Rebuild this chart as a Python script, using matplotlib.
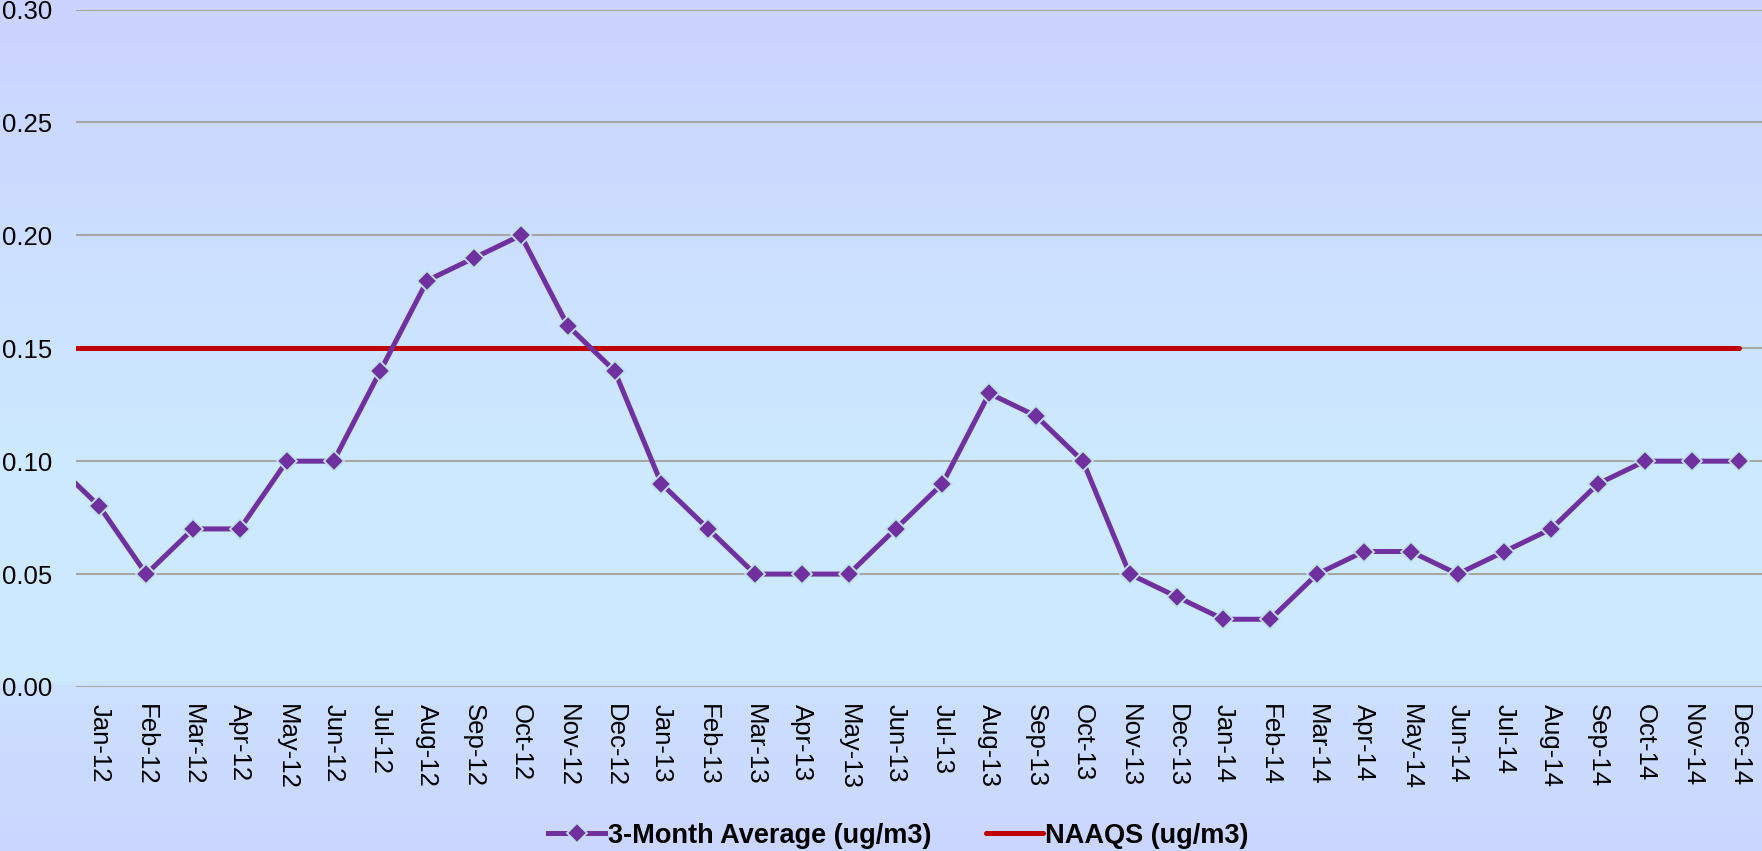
import matplotlib
matplotlib.use("Agg")
from matplotlib import pyplot as plt
from matplotlib.colors import LinearSegmentedColormap
import numpy as np

# monthly data, first month (Dec-11) sits just outside the visible range
months = ['Dec-11',
          'Jan-12', 'Feb-12', 'Mar-12', 'Apr-12', 'May-12', 'Jun-12',
          'Jul-12', 'Aug-12', 'Sep-12', 'Oct-12', 'Nov-12', 'Dec-12',
          'Jan-13', 'Feb-13', 'Mar-13', 'Apr-13', 'May-13', 'Jun-13',
          'Jul-13', 'Aug-13', 'Sep-13', 'Oct-13', 'Nov-13', 'Dec-13',
          'Jan-14', 'Feb-14', 'Mar-14', 'Apr-14', 'May-14', 'Jun-14',
          'Jul-14', 'Aug-14', 'Sep-14', 'Oct-14', 'Nov-14', 'Dec-14']
avg_3month = [0.10,
              0.08, 0.05, 0.07, 0.07, 0.10, 0.10,
              0.14, 0.18, 0.19, 0.20, 0.16, 0.14,
              0.09, 0.07, 0.05, 0.05, 0.05, 0.07,
              0.09, 0.13, 0.12, 0.10, 0.05, 0.04,
              0.03, 0.03, 0.05, 0.06, 0.06, 0.05,
              0.06, 0.07, 0.09, 0.10, 0.10, 0.10]
naaqs = [0.15] * len(months)
yticks = [0.00, 0.05, 0.10, 0.15, 0.20, 0.25, 0.30]

purple = '#7030A0'
red = '#C00000'

plt.rcParams['font.family'] = ['Liberation Sans', 'DejaVu Sans']

fig = plt.figure(figsize=(17.62, 8.51), dpi=100)

# background gradient over the whole figure
bg = fig.add_axes([0, 0, 1, 1], zorder=-10)
grad = LinearSegmentedColormap.from_list('bg', [
    (0.0, '#cbd3ff'), (0.55, '#cdeaff'), (0.80, '#cde9ff'),
    (0.81, '#cce0ff'), (1.0, '#cbd6ff')])
bg.imshow(np.linspace(0, 1, 256).reshape(-1, 1), aspect='auto', cmap=grad,
          extent=[0, 1, 0, 1])
bg.axis('off')

ax = fig.add_axes([76 / 1762, 1 - 687 / 851, 1 - 76 / 1762, (687 - 9.5) / 851])
ax.set_facecolor('none')

x = np.arange(-1, len(months) - 1)

ax.plot(x, avg_3month, '-', color=purple, lw=3.6, marker='D', ms=10.5,
        mfc=purple, mec='#bfe3e6', mew=1.3, zorder=4,
        label='3-Month Average (ug/m3)')
ax.plot(x, naaqs, '-', color=red, lw=3.6, solid_capstyle='round', zorder=3,
        label='NAAQS (ug/m3)')

ax.set_xlim(-0.5, len(months) - 1.5)
ax.set_ylim(0, 0.30)
ax.set_yticks(yticks)
ax.set_yticklabels(['%.2f' % v for v in yticks])
ax.set_xticks(x[1:])
ax.set_xticklabels(months[1:], rotation=270)
ax.tick_params(axis='both', length=0, labelsize=18.5)
ax.tick_params(axis='x', pad=12)
ax.tick_params(axis='y', pad=17)

ax.grid(axis='y', color='#a6a6a6', lw=1.5, zorder=1)
ax.set_axisbelow(True)
for s in ax.spines.values():
    s.set_visible(False)

fig.legend(loc='center', bbox_to_anchor=(0.51, 0.018), ncol=2,
           frameon=False, prop={'weight': 'bold', 'size': 19.5},
           handlelength=2.1, handletextpad=0.1, columnspacing=2.0,
           borderpad=0, borderaxespad=0)

fig.savefig('out.png', dpi=100)
